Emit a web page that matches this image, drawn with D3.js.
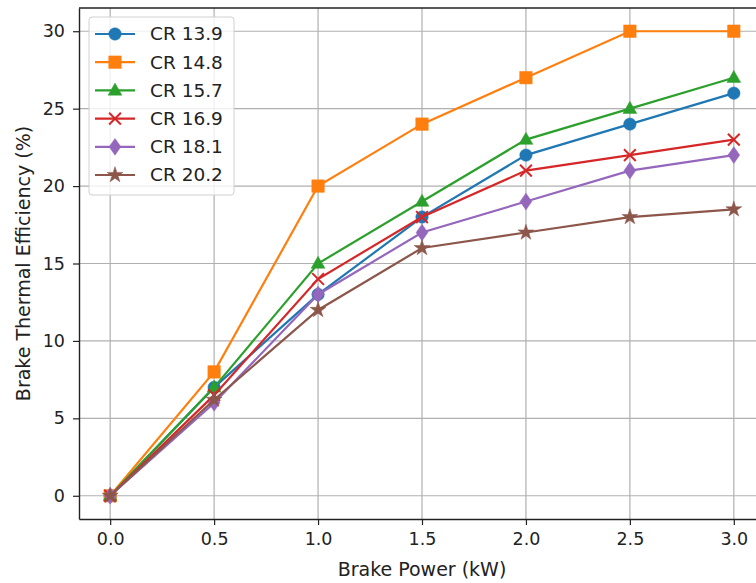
<!DOCTYPE html>
<html>
<head>
<meta charset="utf-8">
<script src="https://cdn.jsdelivr.net/npm/d3@7"></script>
<style>
  body { margin: 0; background: #fff; }
  svg text { font-family: "DejaVu Sans", sans-serif; fill: #222; }
</style>
</head>
<body>
<div id="chart"></div>
<script>
// brake power (kW) on x
const power = [0.0, 0.5, 1.0, 1.5, 2.0, 2.5, 3.0];
const seriesNames = ["CR 13.9", "CR 14.8", "CR 15.7", "CR 16.9", "CR 18.1", "CR 20.2"];
const cr139 = [0, 7, 13, 18, 22, 24, 26];
const cr148 = [0, 8, 20, 24, 27, 30, 30];
const cr157 = [0, 7, 15, 19, 23, 25, 27];
const cr169 = [0, 6.5, 14, 18, 21, 22, 23];
const cr181 = [0, 6, 13, 17, 19, 21, 22];
const cr202 = [0, 6.2, 12, 16, 17, 18, 18.5];
const xTicks = [0.0, 0.5, 1.0, 1.5, 2.0, 2.5, 3.0];
const yTicks = [0, 5, 10, 15, 20, 25, 30];

const colors = ["#1f77b4", "#ff7f0e", "#2ca02c", "#d62728", "#9467bd", "#8c564b"];
const markers = ["circle", "square", "triangle", "x", "diamond", "star"];
const values = [cr139, cr148, cr157, cr169, cr181, cr202];

const width = 756, height = 583;
const m = { left: 79, right: -9, top: 8, bottom: 64 };

const svg = d3.select("#chart").append("svg")
  .attr("width", width).attr("height", height);

const x = d3.scaleLinear().domain([-0.15, 3.15]).range([m.left, width - m.right]);
const y = d3.scaleLinear().domain([-1.5, 31.5]).range([height - m.bottom, m.top]);

// grid
svg.append("g").selectAll("line").data(xTicks).enter().append("line")
  .attr("x1", d => x(d)).attr("x2", d => x(d))
  .attr("y1", m.top).attr("y2", height - m.bottom)
  .attr("stroke", "#b0b0b0").attr("stroke-width", 1.2);
svg.append("g").selectAll("line").data(yTicks).enter().append("line")
  .attr("x1", m.left).attr("x2", width - m.right)
  .attr("y1", d => y(d)).attr("y2", d => y(d))
  .attr("stroke", "#b0b0b0").attr("stroke-width", 1.2);

// axes
let xAxis = svg.append("g")
  .attr("transform", "translate(0," + (height - m.bottom) + ")")
  .call(d3.axisBottom(x).tickValues(xTicks).tickFormat(d3.format(".1f"))
    .tickSize(6).tickSizeOuter(0).tickPadding(8));
let yAxis = svg.append("g")
  .attr("transform", "translate(" + m.left + ",0)")
  .call(d3.axisLeft(y).tickValues(yTicks).tickSize(6).tickSizeOuter(0).tickPadding(8));
for (let ax of [xAxis, yAxis]) {
  ax.select(".domain").attr("stroke", "#222").attr("stroke-width", 1.4);
  ax.selectAll(".tick line").attr("stroke", "#222").attr("stroke-width", 1.2);
  ax.selectAll(".tick text").attr("font-size", 17.5).attr("font-family", "DejaVu Sans").attr("fill", "#222");
}
// top spine
svg.append("line")
  .attr("x1", m.left).attr("x2", width).attr("y1", m.top).attr("y2", m.top)
  .attr("stroke", "#222").attr("stroke-width", 1.4);

svg.append("text")
  .attr("x", x(1.5)).attr("y", height - 7)
  .attr("text-anchor", "middle").attr("font-size", 19)
  .text("Brake Power (kW)");
svg.append("text")
  .attr("transform", "translate(30," + y(15) + ") rotate(-90)")
  .attr("text-anchor", "middle").attr("font-size", 19)
  .text("Brake Thermal Efficiency (%)");

// marker shapes
function markerPath(type, s) {
  if (type == "circle") return d3.symbol(d3.symbolCircle, s * s * 0.62)();
  if (type == "square") return d3.symbol(d3.symbolSquare, s * s * 0.8)();
  if (type == "triangle") {
    let r = s * 0.52;
    return "M0," + (-r) + "L" + (r * 0.95) + "," + (r * 0.65) + "L" + (-r * 0.95) + "," + (r * 0.65) + "Z";
  }
  if (type == "x") {
    let r = s * 0.42;
    return "M" + (-r) + "," + (-r) + "L" + r + "," + r + "M" + (-r) + "," + r + "L" + r + "," + (-r);
  }
  if (type == "diamond") {
    let w = s * 0.42, h = s * 0.6;
    return "M0," + (-h) + "L" + w + ",0L0," + h + "L" + (-w) + ",0Z";
  }
  if (type == "star") return d3.symbol(d3.symbolStar, s * s * 0.4)();
}

const plot = svg.append("g");
const line = d3.line().x((d, i) => x(power[i])).y(d => y(d));
values.forEach((vals, k) => {
  plot.append("path")
    .attr("d", line(vals))
    .attr("fill", "none")
    .attr("stroke", colors[k])
    .attr("stroke-width", 2.2);
  plot.selectAll(null).data(vals).enter().append("path")
    .attr("transform", (d, i) => "translate(" + x(power[i]) + "," + y(d) + ")")
    .attr("d", markerPath(markers[k], 14))
    .attr("fill", markers[k] == "x" ? "none" : colors[k])
    .attr("stroke", colors[k])
    .attr("stroke-width", markers[k] == "x" ? 2 : 0.5);
});

// legend
const lg = svg.append("g").attr("transform", "translate(89,17)");
lg.append("rect")
  .attr("width", 145).attr("height", 178).attr("rx", 3)
  .attr("fill", "white").attr("fill-opacity", 0.8)
  .attr("stroke", "#d0d0d0").attr("stroke-width", 1);
seriesNames.forEach((name, k) => {
  let yy = 17 + k * 28.2;
  lg.append("line")
    .attr("x1", 6).attr("x2", 46).attr("y1", yy).attr("y2", yy)
    .attr("stroke", colors[k]).attr("stroke-width", 2.2);
  lg.append("path")
    .attr("transform", "translate(26," + yy + ")")
    .attr("d", markerPath(markers[k], 14))
    .attr("fill", markers[k] == "x" ? "none" : colors[k])
    .attr("stroke", colors[k])
    .attr("stroke-width", markers[k] == "x" ? 2 : 0.5);
  lg.append("text")
    .attr("x", 61).attr("y", yy).attr("dy", "0.35em")
    .attr("font-size", 18.5)
    .text(name);
});
</script>
</body>
</html>
